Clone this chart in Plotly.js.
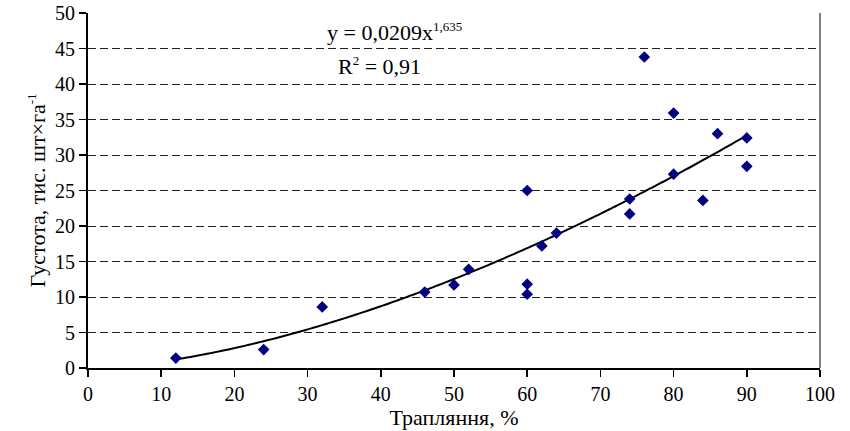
<!DOCTYPE html>
<html>
<head>
<meta charset="utf-8">
<script src="https://cdn.plot.ly/plotly-3.0.1.min.js"></script>
<style>html,body{margin:0;padding:0;background:#fff;}#chart{width:850px;height:431px;}</style>
</head>
<body>
<div id="chart"></div>
<script>
// Observed data: occurrence (%) vs density (thousand plants per ha)
const occurrence = [12, 24, 32, 46, 50, 52, 60, 60, 60, 62, 64, 74, 74, 76, 80, 80, 84, 86, 90, 90];
const density    = [1.4, 2.6, 8.6, 10.7, 11.7, 13.9, 25.0, 11.8, 10.4, 17.2, 19.0, 23.8, 21.7, 43.8, 35.9, 27.3, 23.6, 33.0, 32.4, 28.4];

// Power trendline shown on the chart: y = 0.0209 * x^1.635, drawn over the data range
const trendA = 0.0209;
const trendB = 1.635;
const trendXmin = 12;
const trendXmax = 90;

const xTicks = [0, 10, 20, 30, 40, 50, 60, 70, 80, 90, 100];
const yTicks = [0, 5, 10, 15, 20, 25, 30, 35, 40, 45, 50];

const trendX = [];
const trendY = [];
for (let x = trendXmin; x <= trendXmax + 1e-9; x += 0.5) {
  trendX.push(x);
  trendY.push(trendA * Math.pow(x, trendB));
}

const font = "Liberation Serif, Times New Roman, serif";
const tickSize = 20;
const titleSize = 22;

const traces = [
  {
    x: trendX, y: trendY, type: 'scatter', mode: 'lines',
    line: {color: '#000000', width: 2, shape: 'spline'}, hoverinfo: 'skip', showlegend: false
  },
  {
    x: occurrence, y: density, type: 'scatter', mode: 'markers',
    marker: {symbol: 'diamond', size: 9, color: '#000080', line: {width: 0}},
    showlegend: false
  }
];

const layout = {
  width: 850, height: 431,
  margin: {l: 88, r: 30, t: 13, b: 63},
  paper_bgcolor: '#ffffff', plot_bgcolor: '#ffffff',
  font: {family: font, size: tickSize, color: '#000000'},
  showlegend: false,
  xaxis: {
    range: [0, 100], tickvals: xTicks, ticktext: xTicks.map(String),
    showgrid: false, zeroline: false,
    showline: true, linecolor: '#000000', linewidth: 2,
    ticks: 'outside', ticklen: 7, tickwidth: 1.5, tickcolor: '#000000',
    tickfont: {family: font, size: tickSize, color: '#000000'},
    title: {text: 'Трапляння, %', font: {family: font, size: titleSize, color: '#000000'}, standoff: 1},
    fixedrange: true
  },
  yaxis: {
    range: [0, 50], tickvals: yTicks, ticktext: yTicks.map(String),
    showgrid: true, gridcolor: '#222222', gridwidth: 1, griddash: '8px,4px',
    zeroline: false,
    showline: true, linecolor: '#000000', linewidth: 2,
    ticks: 'outside', ticklen: 7, tickwidth: 1.5, tickcolor: '#000000',
    tickfont: {family: font, size: tickSize, color: '#000000'},
    title: {text: 'Густота, тис. шт×га<sup><span style="font-size:13px">-1</span></sup>', font: {family: font, size: titleSize, color: '#000000'}, standoff: 3},
    fixedrange: true
  },
  shapes: [
    {type: 'line', xref: 'paper', yref: 'paper', x0: 1, x1: 1, y0: 0, y1: 1,
     line: {color: '#555555', width: 1.5}}
  ],
  annotations: [
    {x: 41.9, y: 47.3, xref: 'x', yref: 'y', showarrow: false, xanchor: 'center', yanchor: 'middle',
     text: 'y = 0,0209x<sup><span style="font-size:13px">1,635</span></sup>', font: {family: font, size: titleSize, color: '#000000'}, bgcolor: '#ffffff'},
    {x: 39.8, y: 42.6, xref: 'x', yref: 'y', showarrow: false, xanchor: 'center', yanchor: 'middle',
     text: 'R<sup><span style="font-size:13px">2</span></sup> = 0,91', font: {family: font, size: titleSize, color: '#000000'}, bgcolor: '#ffffff'}
  ]
};

Plotly.newPlot('chart', traces, layout, {displayModeBar: false, staticPlot: true});
</script>
</body>
</html>
